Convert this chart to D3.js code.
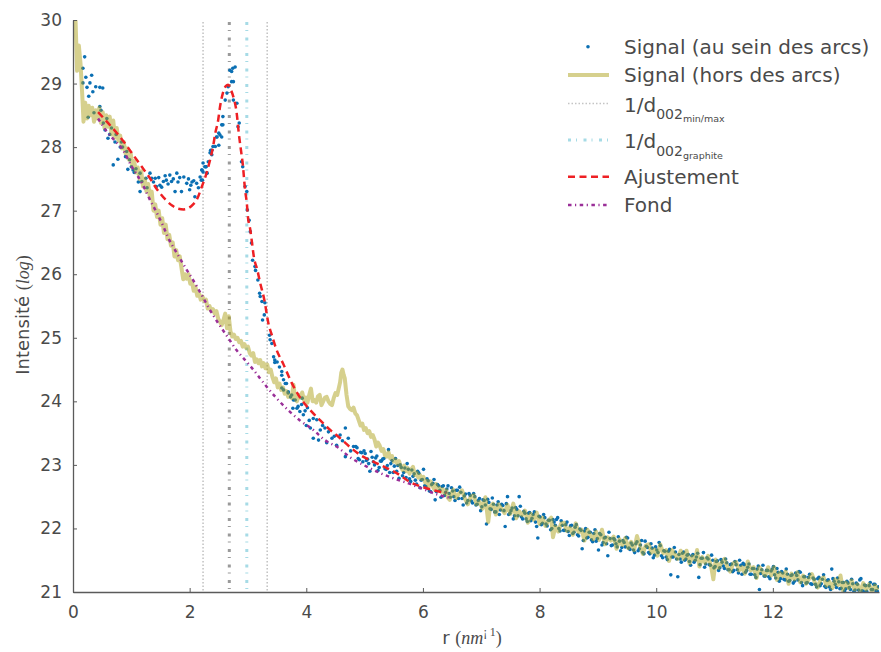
<!DOCTYPE html>
<html><head><meta charset="utf-8">
<script src="https://cdn.jsdelivr.net/npm/d3@7"></script>
<style>body{margin:0;background:#fff}svg{display:block}</style>
</head><body>
<svg id="chart" width="881" height="652"></svg>
<script>
// ---- DATA ----
// Signal (au sein des arcs): [r, intensité]
const signalArcs = [
[0.2,29.42],[0.17,29.24],[0.22,29.1],[0.32,29.13],[0.29,29.01],[0.17,29.01],[0.24,28.94],[0.34,28.87],[0.27,28.8],[0.39,28.95],[0.46,28.94],[0.51,28.93],[0.26,28.47],[0.36,28.54],[0.48,28.58],[0.46,28.64],
[0.52,28.38],[0.55,28.27],[0.6,28.14],[0.63,28.2],[0.72,28.08],[0.83,28.08],[0.81,28.0],[0.92,27.93],[0.69,27.72],[0.77,27.81],[0.94,27.65],[1.0,27.69],[1.03,27.64],[1.08,27.66],[1.15,27.59],[1.25,27.51],[1.18,27.46],[1.32,27.59],[1.35,27.51],[1.41,27.51],[1.15,27.3],[1.27,27.36],[1.43,27.38],[1.49,27.4],[1.55,27.46],[1.6,27.48],[1.69,27.46],[1.75,27.3],[1.78,27.59],[1.66,27.56],[1.72,27.5],[1.86,27.3],[1.9,27.53],[1.95,27.43],[2.0,27.33],[2.04,27.45],[2.09,27.22],[2.12,27.43],[2.18,27.53],[2.23,27.61],[2.26,27.69],[2.29,27.59],[2.32,27.77],[2.35,27.91],[2.38,27.95],[2.44,28.01],[2.5,28.03],[2.46,28.16],[2.52,28.19],[2.55,28.35],[2.57,28.48],[2.61,28.74],[2.64,28.85],[2.66,28.95],[2.72,29.03],[2.69,29.21],[2.74,29.24],[2.78,29.26],
[1.38,27.45],[1.47,27.52],[1.52,27.37],[1.58,27.55],[1.63,27.42],[1.8,27.45],[1.83,27.52],[1.98,27.5],[2.02,27.4],[2.07,27.47],[2.15,27.36],[2.2,27.48],[2.21,27.64],[2.22,27.48],[2.28,27.69],[2.3,27.59],
[0.58,28.45],[0.66,28.3],[0.74,28.2],[0.85,28.0],[0.9,27.85],[0.97,27.8],[1.05,27.6],[1.12,27.45],
[2.72,29.19],[2.75,29.03],[2.75,28.74],[2.81,28.69],[2.85,28.38],[2.83,28.32],[2.89,27.77],[2.91,27.69],[2.95,27.38],[2.98,27.3],[2.99,27.01],[3.02,26.85],[3.04,26.67],[3.06,26.49],[3.08,26.22],[3.12,26.12],[3.13,26.06],[3.17,25.91],[3.21,25.65],[3.2,25.7],[3.24,25.57],[3.29,25.55],[3.28,25.36],[3.25,25.28],[3.37,25.04],[3.38,24.97],[3.41,24.91],[3.44,24.7],[3.46,24.65],[3.5,24.62],[3.54,24.54],[3.58,24.47],[3.61,24.34],[3.58,24.21],[3.66,24.28],[3.69,24.13],[3.73,24.07],[3.81,24.02],[3.86,23.92],[3.77,23.89],
[2.4,28.01],[2.36,27.95],[2.38,27.88],[2.28,27.69],[2.23,27.75],[2.21,27.64],[2.47,28.16],[2.55,28.16],[2.5,28.22],[2.57,28.35],
[3.46,24.61],[3.58,24.41],[3.64,24.28],[3.61,24.18],[3.69,24.15],[3.75,24.1],[3.78,24.02],[3.84,23.89],[3.89,23.84],[3.95,23.79],[4.0,23.62],[4.05,23.7],[4.12,23.73],[4.18,23.71],[4.07,23.58],[4.24,23.55],[4.32,23.58],[4.38,23.52],[4.12,23.42],[4.21,23.39],[4.44,23.42],[4.67,23.58],[4.58,23.47],[4.52,23.31],[4.72,23.42],[4.81,23.29],[4.67,23.13],[4.35,23.35],[4.48,23.45],[4.28,23.62],[3.92,23.95],[3.98,23.85],[4.62,23.38],[4.76,23.22],[3.93,24.05],[4.02,23.9],
[4.85,23.29],[4.89,23.1],[4.93,23.2],[4.97,23.05],[5.01,23.18],[5.05,23.09],[5.09,22.9],[5.13,23.12],[5.17,23.0],[5.21,23.14],[5.25,22.96],[5.29,23.06],[5.33,23.1],[5.37,22.93],[5.41,23.24],[5.45,23.02],[5.49,22.88],[5.53,23.1],[5.57,22.99],[5.61,23.0],[5.65,22.83],[5.69,22.95],[5.73,23.02],[5.77,22.78],[5.81,22.92],[5.85,22.86],[5.89,22.7],[5.93,22.87],[5.97,22.76],
[6.01,22.93],[6.05,22.66],[6.09,22.75],[6.13,22.58],[6.17,22.71],[6.21,22.45],[6.25,22.69],[6.29,22.6],[6.33,22.66],[6.37,22.52],[6.41,22.62],[6.45,22.55],[6.49,22.64],[6.53,22.5],[6.57,22.6],[6.61,22.47],[6.65,22.57],[6.69,22.37],[6.73,22.54],[6.77,22.44],[6.81,22.52],[6.85,22.4],[6.89,22.5],[6.93,22.38],[6.97,22.47],
[7.01,22.34],[7.05,22.44],[7.09,22.07],[7.13,22.41],[7.17,22.3],[7.21,22.38],[7.25,22.26],[7.29,22.42],[7.33,22.29],[7.37,22.36],[7.41,22.03],[7.45,22.5],[7.49,22.24],[7.53,22.32],[7.57,22.2],[7.61,22.3],[7.65,22.5],[7.69,22.18],[7.73,22.27],[7.77,22.15],[7.81,22.24],[7.85,22.12],[7.89,22.22],[7.93,22.1],[7.97,21.85],
[8.01,22.18],[8.05,22.08],[8.09,22.17],[8.13,22.04],[8.17,22.13],[8.21,22.0],[8.25,22.1],[8.29,22.14],[8.33,22.0],[8.37,22.12],[8.41,21.97],[8.45,22.06],[8.49,21.95],[8.53,22.04],[8.57,21.92],[8.61,22.02],[8.65,21.9],[8.69,21.99],[8.73,21.68],[8.77,21.96],[8.81,21.85],[8.85,21.94],[8.89,21.82],[8.93,21.92],[8.97,21.8],
[9.01,21.66],[9.05,21.9],[9.09,21.78],[9.13,21.86],[9.17,21.57],[9.21,21.84],[9.25,21.74],[9.29,21.82],[9.33,21.71],[9.37,21.8],[9.41,21.7],[9.45,21.78],[9.49,21.86],[9.53,21.69],[9.57,21.77],[9.61,21.66],[9.65,21.76],[9.69,21.65],[9.73,21.74],[9.77,21.62],[9.81,21.8],[9.85,21.7],[9.89,21.6],[9.93,21.69],[9.97,21.58],
[10.01,21.66],[10.05,21.78],[10.09,21.57],[10.13,21.65],[10.17,21.55],[10.21,21.64],[10.25,21.27],[10.29,21.55],[10.33,21.63],[10.37,21.24],[10.41,21.52],[10.45,21.61],[10.49,21.5],[10.53,21.58],[10.57,21.48],[10.61,21.57],[10.65,21.47],[10.69,21.55],[10.73,21.23],[10.77,21.53],[10.81,21.62],[10.85,21.44],[10.89,21.52],[10.93,21.42],[10.97,21.5],
[11.01,21.4],[11.05,21.49],[11.09,21.38],[11.13,21.47],[11.17,21.37],[11.21,21.46],[11.25,21.35],[11.29,21.44],[11.33,21.34],[11.37,21.43],[11.41,21.3],[11.45,21.42],[11.49,21.45],[11.53,21.31],[11.57,21.39],[11.61,21.28],[11.65,21.37],[11.69,21.27],[11.73,21.36],[11.77,21.04],[11.81,21.35],[11.85,21.25],[11.89,21.34],[11.93,21.24],[11.97,21.33],
[12.01,21.4],[12.05,21.22],[12.09,21.31],[12.13,21.21],[12.17,21.3],[12.21,21.19],[12.25,21.28],[12.29,21.18],[12.33,21.27],[12.37,21.17],[12.41,21.26],[12.45,21.32],[12.49,21.15],[12.53,21.24],[12.57,21.14],[12.61,21.23],[12.65,21.13],[12.69,21.22],[12.73,21.12],[12.77,21.21],[12.81,21.1],[12.85,21.2],[12.89,21.09],[12.93,21.18],[12.97,21.08],
[13.01,21.36],[13.05,21.17],[13.09,21.07],[13.13,21.16],[13.17,21.06],[13.21,21.15],[13.25,21.05],[13.29,21.14],[13.33,21.04],[13.37,21.13],[13.41,21.03],[13.45,21.12],[13.49,21.19],[13.53,21.02],[13.57,21.11],[13.61,21.01],[13.65,21.1],[13.69,21.04],[13.73,21.12],[13.77,21.02],[13.81,21.08],
[4.87,23.27],[4.91,23.08],[4.95,23.19],[4.99,23.22],[5.03,23.07],[5.07,23.02],[5.11,23.21],[5.15,23.05],[5.19,23.11],[5.23,22.91],[5.27,23.06],[5.31,23.09],[5.35,22.94],[5.39,22.99],[5.43,22.88],[5.47,23.07],
[5.51,22.98],[5.55,22.9],[5.59,22.79],[5.63,22.96],[5.67,22.88],[5.71,22.8],[5.75,22.93],[5.79,22.74],[5.83,22.82],[5.87,22.76],[5.91,22.9],[5.95,22.64],[5.99,22.77],
[6.03,22.67],[6.07,22.78],[6.11,22.59],[6.15,22.69],[6.19,22.77],[6.23,22.58],[6.27,22.67],[6.31,22.49],[6.35,22.67],[6.39,22.57],[6.43,22.67],[6.47,22.49],[6.51,22.59],[6.55,22.44],[6.59,22.6],[6.63,22.65],[6.67,22.47],[6.71,22.51],[6.75,22.4],[6.79,22.55],[6.83,22.43],[6.87,22.55],[6.91,22.37],[6.95,22.44],[6.99,22.28],
[7.03,22.45],[7.07,22.37],[7.11,22.46],[7.15,22.31],[7.19,22.48],[7.23,22.26],[7.27,22.37],[7.31,22.22],[7.35,22.38],[7.39,22.28],[7.43,22.39],[7.47,22.22],[7.51,22.28],[7.55,22.15],[7.59,22.33],[7.63,22.2],[7.67,22.35],[7.71,22.15],[7.75,22.24],[7.79,22.11],[7.83,22.25],[7.87,22.16],[7.91,22.26],[7.95,22.03],[7.99,22.19],
[8.03,22.06],[8.07,22.22],[8.11,22.07],[8.15,22.13],[8.19,21.98],[8.23,22.14],[8.27,22.05],[8.31,22.17],[8.35,21.96],[8.39,22.05],[8.43,21.97],[8.47,22.1],[8.51,21.89],[8.55,22.05],[8.59,21.94],[8.63,22.06],[8.67,21.88],[8.71,21.97],[8.75,21.81],[8.79,22.0],[8.83,21.86],[8.87,21.94],[8.91,21.79],[8.95,21.98],[8.99,21.84],
[9.03,21.92],[9.07,21.74],[9.11,21.85],[9.15,21.76],[9.19,21.94],[9.23,21.73],[9.27,21.84],[9.31,21.76],[9.35,21.87],[9.39,21.65],[9.43,21.81],[9.47,21.71],[9.51,21.85],[9.55,21.67],[9.59,21.74],[9.63,21.62],[9.67,21.79],[9.71,21.68],[9.75,21.81],[9.79,21.6],[9.83,21.72],[9.87,21.62],[9.91,21.76],[9.95,21.54],[9.99,21.71],
[10.03,21.62],[10.07,21.73],[10.11,21.54],[10.15,21.64],[10.19,21.51],[10.23,21.67],[10.27,21.55],[10.31,21.7],[10.35,21.52],[10.39,21.59],[10.43,21.47],[10.47,21.63],[10.51,21.52],[10.55,21.59],[10.59,21.42],[10.63,21.59],[10.67,21.5],[10.71,21.61],[10.75,21.43],[10.79,21.53],[10.83,21.39],[10.87,21.54],[10.91,21.43],[10.95,21.58],[10.99,21.38],
[11.03,21.48],[11.07,21.34],[11.11,21.51],[11.15,21.41],[11.19,21.52],[11.23,21.35],[11.27,21.43],[11.31,21.32],[11.35,21.48],[11.39,21.35],[11.43,21.5],[11.47,21.28],[11.51,21.43],[11.55,21.34],[11.59,21.44],[11.63,21.28],[11.67,21.37],[11.71,21.23],[11.75,21.41],[11.79,21.29],[11.83,21.42],[11.87,21.25],[11.91,21.34],[11.95,21.21],[11.99,21.36],
[12.03,21.27],[12.07,21.37],[12.11,21.17],[12.15,21.32],[12.19,21.2],[12.23,21.36],[12.27,21.17],[12.31,21.26],[12.35,21.14],[12.39,21.3],[12.43,21.19],[12.47,21.31],[12.51,21.1],[12.55,21.24],[12.59,21.15],[12.63,21.28],[12.67,21.12],[12.71,21.2],[12.75,21.08],[12.79,21.23],[12.83,21.13],[12.87,21.27],[12.91,21.07],[12.95,21.19],[12.99,21.04],
[13.03,21.21],[13.07,21.12],[13.11,21.22],[13.15,21.05],[13.19,21.15],[13.23,21.02],[13.27,21.17],[13.31,21.07],[13.35,21.2],[13.39,21.01],[13.43,21.14],[13.47,21.03],[13.51,21.21],[13.55,21.01],[13.59,21.1],[13.63,20.97],[13.67,21.15],[13.71,21.04],[13.75,21.12],[13.79,21.01]
];
// Signal (hors des arcs): [r, intensité]
const signalHors = [
[0.04,30.1],[0.07,29.2],[0.1,29.6],[0.13,29.3],[0.16,28.8],[0.18,28.4],[0.21,28.7],[0.24,28.45],[0.27,28.65],[0.3,28.5],[0.33,28.62],[0.36,28.4],[0.39,28.58],[0.42,28.45],[0.45,28.62],[0.48,28.38],[0.51,28.55],[0.54,28.3],[0.57,28.5],[0.6,28.32],[0.63,28.48],[0.66,28.2],[0.69,28.42],[0.72,28.15],[0.75,28.3],[0.78,28.1],[0.81,28.18],[0.84,27.98],[0.87,28.08],[0.9,27.9],[0.93,27.98],[0.96,27.8],[0.99,27.9],
[1.02,27.68],[1.05,27.78],[1.08,27.6],[1.11,27.68],[1.14,27.5],[1.17,27.62],[1.2,27.38],[1.23,27.5],[1.26,27.3],[1.29,27.42],[1.32,27.2],[1.35,27.3],[1.38,27.0],[1.41,27.1],[1.44,26.9],[1.47,27.0],[1.5,26.78],[1.53,26.88],[1.56,26.65],[1.59,26.78],[1.62,26.55],[1.65,26.62],[1.68,26.45],[1.71,26.5],[1.74,26.28],[1.77,26.38],[1.8,26.22],[1.83,26.28],[1.86,26.1],[1.89,25.92],[1.92,26.0],[1.95,25.93],[1.98,26.0],
[2.01,25.85],[2.04,25.88],[2.07,25.74],[2.1,25.8],[2.13,25.66],[2.16,25.7],[2.19,25.6],[2.22,25.65],[2.25,25.58],[2.28,25.6],[2.31,25.46],[2.34,25.5],[2.37,25.42],[2.4,25.45],[2.43,25.38],[2.46,25.42],[2.49,25.3],[2.52,25.25],[2.55,25.2],[2.58,25.28],[2.61,25.38],[2.64,25.15],[2.67,25.34],[2.7,25.1],[2.73,25.02],[2.76,25.05],[2.79,24.98],[2.82,25.0],[2.85,24.93],[2.88,24.95],[2.91,24.86],[2.94,24.9],[2.97,24.84],
[3.0,24.86],[3.03,24.76],[3.06,24.72],[3.09,24.76],[3.12,24.62],[3.15,24.66],[3.18,24.6],[3.21,24.65],[3.24,24.55],[3.27,24.6],[3.3,24.52],[3.33,24.58],[3.36,24.46],[3.39,24.5],[3.42,24.38],[3.45,24.3],[3.48,24.36],[3.51,24.22],[3.54,24.28],[3.57,24.18],[3.6,24.22],[3.63,24.12],[3.66,24.16],[3.69,24.07],[3.72,24.1],[3.75,24.05],[3.78,24.26],[3.81,24.05],[3.84,24.0],[3.87,24.1],[3.9,24.06],[3.93,24.14],[3.96,24.02],[3.99,24.06],
[4.02,23.98],[4.05,24.1],[4.08,24.2],[4.11,24.0],[4.14,24.02],[4.17,23.98],[4.2,24.08],[4.23,24.1],[4.26,23.94],[4.29,24.0],[4.32,24.06],[4.35,24.07],[4.38,24.0],[4.41,23.96],[4.44,23.94],[4.47,24.05],[4.5,24.13],[4.53,24.1],[4.56,24.22],[4.58,24.3],[4.6,24.45],[4.62,24.5],[4.64,24.42],[4.66,24.36],[4.69,24.1],[4.72,23.92],[4.75,23.88],[4.78,23.86],[4.81,23.9],[4.84,23.81],[4.87,23.78],[4.9,23.7],[4.93,23.62],[4.96,23.65],[4.99,23.55],
[5.02,23.58],[5.05,23.5],[5.08,23.53],[5.11,23.44],[5.14,23.47],[5.17,23.4],[5.2,23.29],[5.23,23.35],[5.26,23.3],[5.29,23.22],[5.32,23.25],[5.35,23.15],[5.38,23.13],[5.41,23.2],[5.44,23.1],[5.47,23.14],[5.5,23.05],[5.53,23.08],[5.56,23.02],[5.59,23.06],[5.62,22.97],[5.65,22.92],[5.68,22.99],[5.71,22.9],[5.74,22.95],[5.77,22.86],[5.8,22.93],[5.83,22.97],[5.86,22.84],[5.89,22.88],[5.92,22.8],[5.95,22.84],[5.98,22.78],
[6.01,22.81],[6.04,22.72],[6.07,22.75],[6.1,22.66],[6.13,22.74],[6.16,22.68],[6.19,22.62],[6.22,22.7],[6.25,22.6],[6.28,22.64],[6.31,22.58],[6.34,22.62],[6.37,22.55],[6.4,22.6],[6.43,22.48],[6.46,22.45],[6.49,22.56],
[6.52,22.61],[6.57,22.48],[6.62,22.55],[6.67,22.6],[6.72,22.47],[6.77,22.38],[6.82,22.5],[6.87,22.52],[6.92,22.38],[6.97,22.42],
[7.02,22.31],[7.07,22.49],[7.12,22.1],[7.15,22.34],[7.2,22.39],[7.25,22.22],[7.3,22.38],[7.35,22.31],[7.4,22.24],[7.45,22.37],[7.5,22.23],[7.55,22.39],[7.6,22.16],[7.65,22.27],[7.7,22.21],[7.75,22.28],[7.8,22.09],[7.85,22.23],[7.9,22.14],[7.95,22.25],
[8.0,22.07],[8.05,22.17],[8.1,22.04],[8.15,22.12],[8.2,22.17],[8.23,21.86],[8.27,22.03],[8.32,21.95],[8.37,22.08],[8.42,22.09],[8.47,21.96],[8.52,22.01],[8.57,21.9],[8.62,22.08],[8.67,21.94],[8.72,21.98],[8.77,21.81],[8.82,21.98],[8.87,21.9],[8.92,21.83],[8.97,21.95],
[9.02,21.82],[9.07,21.98],[9.12,21.75],[9.17,21.86],[9.22,21.81],[9.27,21.87],[9.32,21.68],[9.37,21.83],[9.42,21.74],[9.47,21.85],[9.52,21.69],[9.57,21.79],[9.62,21.66],[9.67,21.88],[9.72,21.73],[9.77,21.6],[9.82,21.73],[9.87,21.75],[9.92,21.62],[9.97,21.67],
[10.02,21.57],[10.07,21.75],[10.12,21.61],[10.17,21.66],[10.22,21.49],[10.27,21.66],[10.32,21.59],[10.37,21.52],[10.42,21.65],[10.47,21.52],[10.52,21.65],[10.57,21.45],[10.62,21.56],[10.67,21.51],[10.7,21.66],[10.74,21.4],[10.79,21.55],[10.84,21.46],[10.89,21.57],[10.94,21.41],[10.98,21.2],
[11.02,21.51],[11.07,21.38],[11.12,21.46],[11.17,21.52],[11.22,21.39],[11.27,21.32],[11.32,21.45],[11.37,21.47],[11.42,21.34],[11.47,21.39],[11.52,21.29],[11.57,21.48],[11.62,21.34],[11.67,21.39],[11.72,21.22],[11.77,21.39],[11.82,21.32],[11.87,21.26],[11.92,21.39],[11.97,21.26],
[12.02,21.39],[12.07,21.19],[12.12,21.3],[12.17,21.25],[12.22,21.32],[12.27,21.13],[12.32,21.29],[12.37,21.2],[12.42,21.31],[12.47,21.15],[12.52,21.26],[12.57,21.13],[12.62,21.21],[12.67,21.28],[12.72,21.15],[12.77,21.07],[12.82,21.2],[12.87,21.23],[12.92,21.1],[12.97,21.16],
[13.02,21.06],[13.07,21.2],[13.12,21.11],[13.16,21.26],[13.2,21.03],[13.25,21.15],[13.3,21.06],[13.35,21.18],[13.4,21.04],[13.45,21.12],[13.5,21.01],[13.55,21.14],[13.6,21.04],[13.65,21.12],[13.7,21.0],[13.75,21.1],[13.8,21.03]
];
// Ajustement
const fitCurve = [
[0.43,28.55],[0.6,28.38],[0.77,28.2],[0.89,28.06],[1.03,27.88],[1.18,27.69],[1.32,27.51],[1.43,27.35],[1.58,27.18],[1.7,27.08],[1.8,27.03],[1.9,27.02],[1.98,27.04],[2.06,27.1],[2.12,27.17],[2.21,27.38],[2.29,27.59],[2.35,27.8],[2.4,28.0],[2.44,28.22],[2.49,28.43],[2.52,28.63],[2.57,28.85],[2.62,28.96],[2.66,28.98],[2.7,28.92],[2.75,28.79],[2.8,28.58],[2.85,28.16],[2.88,27.95],[2.91,27.74],[2.95,27.33],[2.98,27.12],[3.0,26.9],[3.04,26.7],[3.07,26.49],[3.1,26.28],[3.16,26.07],[3.21,25.86],[3.28,25.6],[3.35,25.23],[3.41,25.04],[3.49,24.81],[3.6,24.6],[3.75,24.29],[3.9,24.05],[4.07,23.86],[4.24,23.7],[4.41,23.55],[4.58,23.42],[4.75,23.28],[4.92,23.16],[5.15,23.05],[5.38,22.95],[5.55,22.87],[5.78,22.73],[6.0,22.65],[6.18,22.6],[6.4,22.56]
];
// Fond
const background = [
[0.43,28.45],[0.6,28.22],[0.72,28.1],[0.86,27.95],[1.01,27.69],[1.1,27.56],[1.2,27.4],[1.32,27.17],[1.44,26.96],[1.55,26.75],[1.65,26.54],[1.75,26.38],[1.82,26.27],[1.95,26.07],[2.09,25.86],[2.22,25.65],[2.36,25.42],[2.49,25.23],[2.66,25.0],[2.8,24.81],[2.98,24.62],[3.09,24.5],[3.32,24.23],[3.49,24.05],[3.69,23.86],[3.89,23.7],[4.12,23.55],[4.32,23.39],[4.55,23.27],[4.75,23.12],[4.98,23.0],[5.27,22.87],[5.49,22.79],[5.72,22.72],[6.0,22.62],[6.26,22.53],[6.47,22.48]
];
const d002MinMax = [2.23, 3.33];
const d002Mean = [2.68];
const d002Graphite = [2.98];
const xTicks = [0, 2, 4, 6, 8, 10, 12];
const yTicks = [21, 22, 23, 24, 25, 26, 27, 28, 29, 30];
const xDomain = [0, 13.82];
const yDomain = [21, 30];

// ---- CHART ----
const svg = d3.select("#chart");
const L = 73, R = 879, T = 20, B = 592;
const x = d3.scaleLinear().domain(xDomain).range([L, R]);
const y = d3.scaleLinear().domain(yDomain).range([B, T]);
const axisColor = "#5a5a5a", textColor = "#4a4a4a";
const sans = "'DejaVu Sans', sans-serif";
const serif = "'Liberation Serif', 'DejaVu Serif', serif";

const C = {
  blue: "#0a6fb3", yellow: "#aea21c", red: "#ee2024", purple: "#9a2f98",
  lgray: "#c4c4c4", dgray: "#9a9a9a", lblue: "#a6dbe6"
};
const dash = { minmax: "1.5,2", dashdot: "3,5,1,6.5", red: "7,4.5", purple: "3.5,3.5,1.2,3.5" };

svg.append("defs").append("clipPath").attr("id", "clip")
  .append("rect").attr("x", L).attr("y", T).attr("width", R - L).attr("height", B - T);
const plot = svg.append("g").attr("clip-path", "url(#clip)");

function vlines(vals, color, w, da) {
  plot.selectAll(null).data(vals).enter().append("line")
    .attr("x1", d => x(d)).attr("x2", d => x(d))
    .attr("y1", y(yDomain[1]) + 2).attr("y2", y(yDomain[0]))
    .attr("stroke", color).attr("stroke-width", w).attr("stroke-dasharray", da);
}
vlines(d002MinMax, C.lgray, 1.6, dash.minmax);
vlines(d002Mean, C.dgray, 3, dash.dashdot);
vlines(d002Graphite, C.lblue, 3, dash.dashdot);

plot.selectAll("circle.arc").data(signalArcs).enter().append("circle")
  .attr("class", "arc").attr("cx", d => x(d[0])).attr("cy", d => y(d[1]))
  .attr("r", 1.8).attr("fill", C.blue);

const line = d3.line().x(d => x(d[0])).y(d => y(d[1]));
const smooth = d3.line().x(d => x(d[0])).y(d => y(d[1])).curve(d3.curveMonotoneX);

plot.append("path").datum(signalHors).attr("d", line)
  .attr("fill", "none").attr("stroke", C.yellow).attr("stroke-opacity", 0.5)
  .attr("stroke-width", 4).attr("stroke-linejoin", "round");
plot.append("path").datum(fitCurve).attr("d", smooth)
  .attr("fill", "none").attr("stroke", C.red).attr("stroke-width", 2.5)
  .attr("stroke-dasharray", dash.red);
plot.append("path").datum(background).attr("d", smooth)
  .attr("fill", "none").attr("stroke", C.purple).attr("stroke-width", 2.5)
  .attr("stroke-dasharray", dash.purple);

const xAxis = svg.append("g").attr("transform", `translate(0,${B})`)
  .call(d3.axisBottom(x).tickValues(xTicks).tickFormat(d3.format("d"))
    .tickSizeInner(-4).tickSizeOuter(0).tickPadding(14));
const yAxis = svg.append("g").attr("transform", `translate(${L},0)`)
  .call(d3.axisLeft(y).tickValues(yTicks).tickFormat(d3.format("d"))
    .tickSizeInner(-4).tickSizeOuter(0).tickPadding(11));
[xAxis, yAxis].forEach(a => {
  a.select(".domain").attr("stroke", axisColor).attr("stroke-width", 1.3);
  a.selectAll(".tick line").attr("stroke", axisColor).attr("stroke-width", 1);
  a.selectAll(".tick text").attr("fill", textColor).attr("font-family", sans).attr("font-size", 17);
});
xAxis.selectAll(".tick text").attr("dy", "0.71em");

const yl = svg.append("text").attr("transform", `translate(29,315) rotate(-90)`)
  .attr("text-anchor", "middle").attr("fill", textColor).attr("font-family", sans).attr("font-size", 18);
yl.append("tspan").text("Intensité ");
yl.append("tspan").attr("font-family", serif).text("(");
yl.append("tspan").attr("font-family", serif).attr("font-style", "italic").text("log");
yl.append("tspan").attr("font-family", serif).text(")");

const xl = svg.append("text").attr("x", 472).attr("y", 644)
  .attr("text-anchor", "middle").attr("fill", textColor).attr("font-family", sans).attr("font-size", 18);
xl.append("tspan").text("r ");
xl.append("tspan").attr("font-family", serif).text("(");
xl.append("tspan").attr("font-family", serif).attr("font-style", "italic").text("nm");
xl.append("tspan").attr("font-family", serif).attr("font-size", 12).attr("dy", -8).text("¡\u20091");
xl.append("tspan").attr("font-family", serif).attr("dy", 8).text(")");

const legendRows = [
  { cy: 46.7, kind: "dot", color: C.blue, label: "Signal (au sein des arcs)" },
  { cy: 75, kind: "line", color: C.yellow, w: 4, op: 0.5, da: null, label: "Signal (hors des arcs)" },
  { cy: 103.5, kind: "line", color: C.lgray, w: 1.6, da: dash.minmax, label: "1/d", sub: "002", subsub: "min/max" },
  { cy: 140, kind: "line", color: C.lblue, w: 3, da: dash.dashdot, label: "1/d", sub: "002", subsub: "graphite" },
  { cy: 176.7, kind: "line", color: C.red, w: 2.5, da: dash.red, label: "Ajustement" },
  { cy: 205, kind: "line", color: C.purple, w: 2.5, da: dash.purple, label: "Fond" }
];
const lg = svg.append("g");
legendRows.forEach(r => {
  if (r.kind === "dot") {
    lg.append("circle").attr("cx", 588).attr("cy", r.cy).attr("r", 1.8).attr("fill", r.color);
  } else {
    lg.append("line").attr("x1", 568).attr("x2", 609).attr("y1", r.cy).attr("y2", r.cy)
      .attr("stroke", r.color).attr("stroke-width", r.w).attr("stroke-opacity", r.op || 1)
      .attr("stroke-dasharray", r.da);
  }
  const base = r.sub ? r.cy + 8 : r.cy + 7.3;
  const t = lg.append("text").attr("x", 624).attr("y", base).attr("fill", textColor)
    .attr("font-family", sans).attr("font-size", 20);
  t.append("tspan").text(r.label);
  if (r.sub) {
    t.append("tspan").attr("font-size", 14).attr("dy", 7.5).text(r.sub);
    t.append("tspan").attr("font-size", 9.5).attr("dy", 3).text(r.subsub);
  }
});
</script>
</body></html>
